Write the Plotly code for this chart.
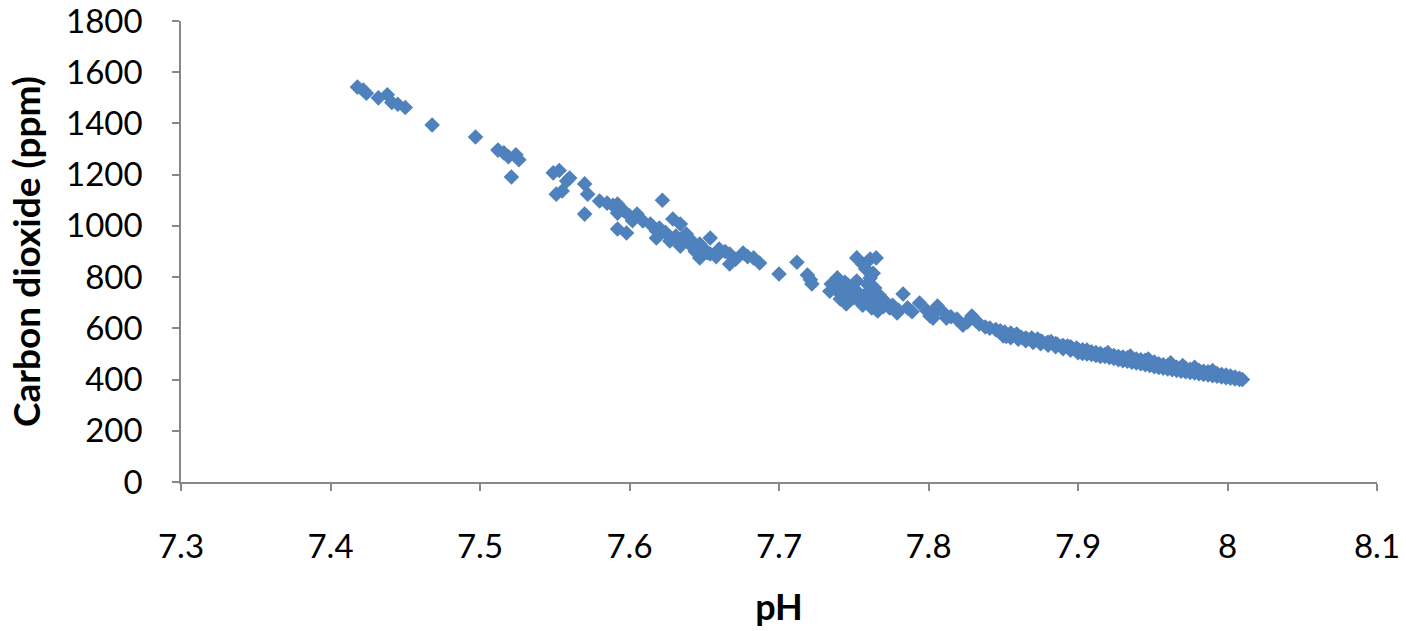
import plotly.graph_objects as go

# Acidic end of the record (pH 7.42 - 7.53)
ph_low = [7.418, 7.422, 7.424, 7.432, 7.438, 7.441, 7.445, 7.450,
          7.468, 7.497, 7.512, 7.516, 7.519, 7.524, 7.526, 7.521]
co2_low = [1542, 1530, 1518, 1500, 1512, 1482, 1475, 1462,
           1394, 1347, 1296, 1285, 1270, 1278, 1258, 1191]

# pH 7.54 - 7.72
ph_mid = [7.549, 7.553, 7.560, 7.558, 7.551, 7.555, 7.570, 7.572, 7.570, 7.580,
          7.585, 7.589, 7.592, 7.592, 7.592, 7.598, 7.596, 7.600, 7.602, 7.605,
          7.609, 7.614, 7.618, 7.622, 7.620, 7.624, 7.629, 7.634, 7.618, 7.627,
          7.631, 7.634, 7.638, 7.641, 7.647, 7.650, 7.654, 7.647, 7.652, 7.654,
          7.658, 7.660, 7.664, 7.667, 7.667, 7.671, 7.676, 7.679, 7.683, 7.687,
          7.640, 7.643, 7.637, 7.644, 7.700, 7.712, 7.719, 7.722, 7.721]
co2_mid = [1207, 1216, 1187, 1175, 1124, 1136, 1164, 1124, 1046, 1097,
           1089, 1080, 1085, 1050, 988, 972, 1060, 1039, 1020, 1046,
           1019, 1007, 980, 1100, 992, 975, 1027, 1007, 953, 941,
           960, 921, 968, 945, 929, 910, 953, 875, 895, 890,
           880, 910, 900, 890, 851, 870, 894, 880, 875, 855,
           930, 915, 950, 900, 812, 858, 808, 773, 790]

# Scattered group around pH 7.73 - 7.81
ph_group = [7.735, 7.739, 7.734, 7.737, 7.741, 7.744, 7.745, 7.748, 7.752, 7.756,
            7.761, 7.765, 7.758, 7.761, 7.763, 7.759, 7.764, 7.752, 7.749, 7.754,
            7.757, 7.761, 7.768, 7.766, 7.771, 7.774, 7.779, 7.783, 7.786, 7.789,
            7.794, 7.799, 7.803, 7.806, 7.812, 7.742, 7.746, 7.750, 7.753, 7.760,
            7.763, 7.767, 7.770, 7.776, 7.780, 7.744, 7.740, 7.756, 7.762]
co2_group = [773, 797, 745, 760, 715, 780, 695, 730, 875, 850,
             871, 875, 832, 797, 815, 773, 757, 785, 746, 707,
             725, 699, 695, 668, 705, 680, 660, 734, 680, 665,
             699, 668, 640, 676, 640, 760, 770, 720, 740, 745,
             720, 730, 685, 690, 670, 710, 740, 690, 680]

# pH 7.80 - 7.90
ph_upper = [7.806, 7.801, 7.811, 7.815, 7.819, 7.823, 7.826, 7.829, 7.832, 7.834,
            7.838, 7.841, 7.845, 7.848, 7.851, 7.852, 7.855, 7.858, 7.859, 7.862,
            7.866, 7.869, 7.873, 7.876, 7.879, 7.882, 7.886, 7.889, 7.893, 7.896,
            7.899, 7.903, 7.906,
            7.850, 7.850, 7.855, 7.855, 7.860, 7.860, 7.865, 7.865, 7.870, 7.870,
            7.875, 7.875, 7.880, 7.880, 7.885, 7.885, 7.890, 7.890, 7.895, 7.895]
co2_upper = [687, 648, 656, 645, 636, 612, 625, 648, 628, 617,
             605, 601, 595, 590, 585, 568, 582, 572, 578, 565,
             558, 562, 558, 548, 543, 548, 539, 530, 531, 522,
             523, 516, 511,
             580, 570, 575, 563, 568, 558, 562, 552, 556, 545,
             550, 540, 545, 534, 540, 528, 533, 520, 528, 515]

# Alkaline end of the record (pH 7.90 - 8.01)
ph_high = [7.900, 7.900, 7.903, 7.903, 7.906, 7.906, 7.909, 7.909, 7.912, 7.912,
           7.915, 7.915, 7.918, 7.918, 7.921, 7.921, 7.924, 7.924, 7.927, 7.927,
           7.930, 7.930, 7.933, 7.933, 7.936, 7.936, 7.939, 7.939, 7.942, 7.942,
           7.945, 7.945, 7.948, 7.948, 7.951, 7.951, 7.954, 7.954, 7.957, 7.957,
           7.960, 7.960, 7.963, 7.963, 7.966, 7.966, 7.969, 7.969, 7.972, 7.972,
           7.975, 7.975, 7.978, 7.978, 7.981, 7.981, 7.984, 7.984, 7.987, 7.987,
           7.990, 7.990, 7.993, 7.993, 7.996, 7.996, 7.999, 7.999, 8.002, 8.002,
           8.005, 8.005, 8.008, 8.008, 8.010,
           7.920, 7.935, 7.947, 7.962, 7.970, 7.978, 7.990]
co2_high = [518, 505, 512, 502, 515, 500, 508, 498, 505, 494,
            502, 490, 498, 490, 496, 486, 494, 482, 490, 478,
            488, 474, 485, 472, 484, 468, 480, 465, 477, 462,
            475, 458, 470, 455, 468, 450, 462, 447, 458, 444,
            455, 441, 452, 438, 448, 436, 446, 433, 444, 431,
            440, 428, 437, 426, 435, 423, 432, 420, 430, 418,
            426, 415, 423, 413, 420, 410, 418, 407, 414, 405,
            410, 402, 405, 400, 400,
            505, 492, 480, 465, 455, 448, 435]

x_tick_vals = [7.3, 7.4, 7.5, 7.6, 7.7, 7.8, 7.9, 8.0, 8.1]
x_tick_text = ["7.3", "7.4", "7.5", "7.6", "7.7", "7.8", "7.9", "8", "8.1"]
y_tick_vals = [0, 200, 400, 600, 800, 1000, 1200, 1400, 1600, 1800]

ph = ph_low + ph_mid + ph_group + ph_upper + ph_high
co2 = co2_low + co2_mid + co2_group + co2_upper + co2_high

FONT = "Lato"
AXIS_GREY = "#878787"

fig = go.Figure(
    go.Scatter(
        x=ph,
        y=co2,
        mode="markers",
        marker=dict(symbol="diamond", size=12, color="#4F81BD", line=dict(width=0)),
        showlegend=False,
    )
)

fig.update_layout(
    width=1406,
    height=631,
    margin=dict(l=181, r=29, t=21, b=149),
    paper_bgcolor="white",
    plot_bgcolor="white",
    font=dict(family=FONT, size=33, color="#000000"),
)

fig.update_xaxes(
    range=[7.3, 8.1],
    automargin=False,
    tickmode="array",
    tickvals=x_tick_vals,
    ticktext=x_tick_text,
    ticks="outside",
    ticklen=7,
    tickwidth=1.5,
    tickcolor=AXIS_GREY,
    ticklabelstandoff=28,
    ticklabeloverflow="allow",
    showline=True,
    linecolor=AXIS_GREY,
    linewidth=1.5,
    showgrid=False,
    zeroline=False,
    title=dict(text="<b>pH</b>", font=dict(family=FONT, size=36), standoff=30),
)

fig.update_yaxes(
    range=[0, 1800],
    automargin=False,
    tickmode="array",
    tickvals=y_tick_vals,
    ticks="outside",
    ticklen=7,
    tickwidth=1.5,
    tickcolor=AXIS_GREY,
    ticklabelstandoff=23,
    ticklabeloverflow="allow",
    showline=True,
    linecolor=AXIS_GREY,
    linewidth=1.5,
    showgrid=False,
    zeroline=False,
    title=dict(text="<b>Carbon dioxide (ppm)</b>", font=dict(family=FONT, size=37), standoff=14),
)

fig.write_html("out.html")
